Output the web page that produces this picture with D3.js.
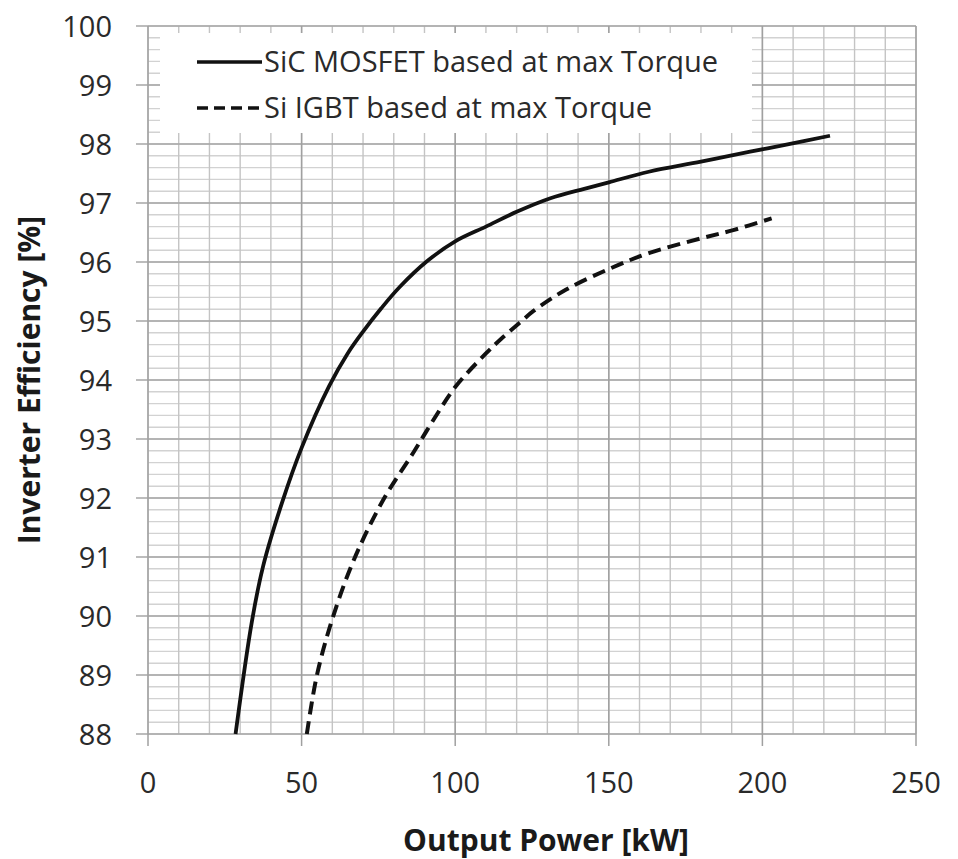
<!DOCTYPE html>
<html>
<head>
<meta charset="utf-8">
<script src="https://cdn.jsdelivr.net/npm/d3@7"></script>
<style>
  body { margin: 0; background: #fff; }
  svg text { font-family: "Open Sans", "Noto Sans", sans-serif; fill: #2a2a2a; }
</style>
</head>
<body>
<div id="chart"></div>
<script>
////////////////////////////////////////////////////////////////////////
// data

let sicPower = [28.5, 33.8, 37.5, 43.5, 50, 59, 65, 70, 76, 82, 91, 100, 110, 120, 131, 142, 150, 163, 180, 196, 207, 222];
let sicEff   = [88.0, 89.9, 90.85, 91.9, 92.85, 93.9, 94.45, 94.82, 95.22, 95.58, 96.02, 96.35, 96.6, 96.85, 97.08, 97.24, 97.35, 97.53, 97.7, 97.87, 97.98, 98.14];

let siPower = [51.7, 55, 60, 67, 76.6, 86.5, 93, 100, 110, 115, 121, 125.5, 136, 150, 163, 180, 190.5, 203];
let siEff   = [88.0, 89.0, 89.95, 90.95, 91.97, 92.78, 93.33, 93.88, 94.45, 94.7, 94.97, 95.17, 95.53, 95.88, 96.15, 96.4, 96.54, 96.74];

let xTicks = [0, 50, 100, 150, 200, 250];
let yTicks = [88, 89, 90, 91, 92, 93, 94, 95, 96, 97, 98, 99, 100];

let seriesNames = ["SiC MOSFET based at max Torque", "Si IGBT based at max Torque"];

////////////////////////////////////////////////////////////////////////
// layout

let svgW = 958, svgH = 859;
let plotLeft = 148, plotRight = 916, plotTop = 26, plotBottom = 734;

let xScale = d3.scaleLinear().domain([0, 250]).range([plotLeft, plotRight]);
let yScale = d3.scaleLinear().domain([88, 100]).range([plotBottom, plotTop]);

let svg = d3.select("#chart").append("svg")
  .attr("width", svgW)
  .attr("height", svgH);

// minor grid: every 10 kW and every 0.2 %
let minorX = d3.range(0, 251, 10);
let minorY = d3.range(88, 100.01, 0.2);

svg.append("g").selectAll("line")
  .data(minorY)
  .enter().append("line")
  .attr("x1", plotLeft).attr("x2", plotRight)
  .attr("y1", d => yScale(d)).attr("y2", d => yScale(d))
  .attr("stroke", "#d2d2d2").attr("stroke-width", 1.4);

svg.append("g").selectAll("line")
  .data(minorX)
  .enter().append("line")
  .attr("x1", d => xScale(d)).attr("x2", d => xScale(d))
  .attr("y1", plotTop).attr("y2", plotBottom)
  .attr("stroke", "#c4c4c4").attr("stroke-width", 1.4);

// major grid (with the tick stubs outside the plot)
svg.append("g").selectAll("line")
  .data(yTicks)
  .enter().append("line")
  .attr("x1", plotLeft - 12).attr("x2", plotRight)
  .attr("y1", d => yScale(d)).attr("y2", d => yScale(d))
  .attr("stroke", "#a6a6a6").attr("stroke-width", 1.5);

svg.append("g").selectAll("line")
  .data(xTicks)
  .enter().append("line")
  .attr("x1", d => xScale(d)).attr("x2", d => xScale(d))
  .attr("y1", plotTop).attr("y2", plotBottom + 12)
  .attr("stroke", "#a0a0a0").attr("stroke-width", 1.5);

// tick labels
svg.append("g").selectAll("text")
  .data(yTicks)
  .enter().append("text")
  .attr("x", 112)
  .attr("y", d => yScale(d) + 1)
  .attr("dy", "0.36em")
  .attr("text-anchor", "end")
  .attr("font-size", 29)
  .text(d => d);

svg.append("g").selectAll("text")
  .data(xTicks)
  .enter().append("text")
  .attr("x", d => xScale(d))
  .attr("y", 783)
  .attr("dy", "0.36em")
  .attr("text-anchor", "middle")
  .attr("font-size", 29)
  .text(d => d);

// axis titles
svg.append("text")
  .attr("x", 546).attr("y", 851)
  .attr("text-anchor", "middle")
  .attr("font-size", 30).attr("font-weight", "bold")
  .style("fill", "#1a1a1a")
  .text("Output Power [kW]");

svg.append("text")
  .attr("transform", "translate(40,380) rotate(-90)")
  .attr("text-anchor", "middle")
  .attr("font-size", 30).attr("font-weight", "bold")
  .style("fill", "#1a1a1a")
  .text("Inverter Efficiency [%]");

// legend box covers the grid
svg.append("rect")
  .attr("x", 160).attr("y", 33)
  .attr("width", 592).attr("height", 100)
  .attr("fill", "#fff");

let legendRows = [
  { name: seriesNames[0], dash: null, y: 62 },
  { name: seriesNames[1], dash: "11,6", y: 108 }
];

let legend = svg.append("g").selectAll("g")
  .data(legendRows)
  .enter().append("g")
  .attr("transform", d => "translate(0," + d.y + ")");

legend.append("line")
  .attr("x1", 197).attr("x2", 262)
  .attr("stroke", "#111").attr("stroke-width", 3.5)
  .attr("stroke-dasharray", d => d.dash);

legend.append("text")
  .attr("x", 264).attr("dy", "0.36em")
  .attr("font-size", 29)
  .text(d => d.name);

// curves
let line = d3.line()
  .x(d => xScale(d[0]))
  .y(d => yScale(d[1]))
  .curve(d3.curveCatmullRom.alpha(0.5));

let sic = d3.zip(sicPower, sicEff);
let si = d3.zip(siPower, siEff);

svg.append("path")
  .datum(sic)
  .attr("d", line)
  .attr("fill", "none")
  .attr("stroke", "#111")
  .attr("stroke-width", 3.8);

svg.append("path")
  .datum(si)
  .attr("d", line)
  .attr("fill", "none")
  .attr("stroke", "#111")
  .attr("stroke-width", 4)
  .attr("stroke-dasharray", "13,7");
</script>
</body>
</html>
